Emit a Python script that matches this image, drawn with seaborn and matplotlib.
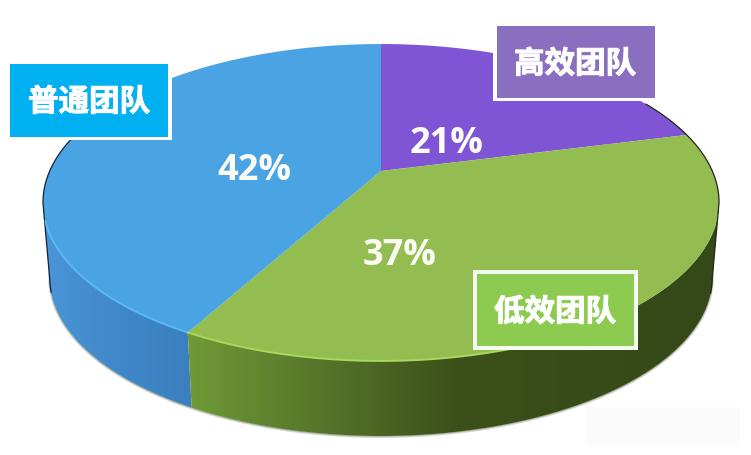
import matplotlib

matplotlib.use("Agg")
import matplotlib.patheffects as pe
import matplotlib.pyplot as plt
import numpy as np
import seaborn as sns
from matplotlib.patches import Polygon, Rectangle

# clockwise from 12 o'clock
team_names = ["高效团队", "低效团队", "普通团队"]
team_shares = [21, 37, 42]
share_labels = ["21%", "37%", "42%"]
top_colors = ["#7F55D6", "#93BD50", "#4AA3E3"]

# disc seen in perspective: the apex sits above the middle of the ellipse
APEX_X, APEX_Y = 381, 172
SCALE_X, SCALE_Y, TILT = 331.3, 152.2, 0.1987
DEPTH, RIM_SHRINK = 75, 0.98


def top_arc(start, stop, n=200):
    '''Screen points of the top edge between two cumulative shares.'''
    angle = np.linspace(start, stop, n) / 100 * 2 * np.pi
    u, v = np.sin(angle), -np.cos(angle)
    w = 1 - TILT * v
    return APEX_X + SCALE_X * u / w, APEX_Y + SCALE_Y * v / w


def rim_arc(start, stop, n=200):
    x, y = top_arc(start, stop, n)
    return APEX_X + (x - APEX_X) * RIM_SHRINK, y + DEPTH


def side_wall(ax, start, stop, colors, x0, x1, zorder):
    '''Visible wall of a slice, shaded from left to right.'''
    tx, ty = top_arc(start, stop)
    rx, ry = rim_arc(start, stop)
    # only the front of the disc shows, so stop at the widest point
    if start >= 50:
        i, j = np.argmin(tx), np.argmin(rx)
        tx, ty, rx, ry = tx[:i + 1], ty[:i + 1], rx[:j + 1], ry[:j + 1]
    else:
        i, j = np.argmax(tx), np.argmax(rx)
        tx, ty, rx, ry = tx[i:], ty[i:], rx[j:], ry[j:]
    outline = np.column_stack([np.r_[tx, rx[::-1]], np.r_[ty, ry[::-1]]])
    shape = Polygon(outline, closed=True, fc="none", ec="none", transform=ax.transData)
    ax.add_patch(shape)
    cmap = sns.blend_palette(colors, as_cmap=True)
    img = ax.imshow(np.linspace(0, 1, 256)[np.newaxis], extent=(x0, x1, 456, 0),
                    cmap=cmap, aspect="auto", zorder=zorder)
    img.set_clip_path(shape)


def flank_line(ax, start, stop, pick, color):
    '''Dark hairline: top edge down to the widest point, then on to the rim.'''
    tx, ty = top_arc(start, stop)
    rx, ry = rim_arc(start, stop)
    i, j = pick(tx), pick(rx)
    ax.plot(np.r_[tx[:i + 1], rx[j:j + 25]], np.r_[ty[:i + 1], ry[j:j + 25]],
            color=color, lw=0.9, zorder=4.5)


def tag(ax, name, x0, y0, x1, y1, fill, tx, ty):
    ax.add_patch(Rectangle((x0, y0), x1 - x0, y1 - y0, fc=fill, ec="none", zorder=6))
    ax.text(tx, ty, name, color="white", fontsize=22, fontweight="bold",
            ha="center", va="center", zorder=7,
            path_effects=[pe.withStroke(linewidth=0.7, foreground="white")])


sns.set_theme(style="white")
plt.rcParams["font.family"] = ["Noto Sans CJK SC", "DejaVu Sans"]

fig = plt.figure(figsize=(7.51, 4.56), dpi=100)
ax = fig.add_axes([0, 0, 1, 1])

edges = np.r_[0, np.cumsum(team_shares)]
green_start, blue_start = edges[1], edges[2]

# faint patch left over in the corner of the picture
ax.add_patch(Rectangle((585, 408), 155, 39, fc="#FBFBFB", ec="none", zorder=0))

# soft shadow round the lower rim
rx, ry = rim_arc(25, 75, 300)
ax.plot(rx, ry + 0.5, color="#8E8E8E", lw=2.2, alpha=0.35, zorder=1)
ax.plot(rx, ry + 0.3, color="#A9B59A", lw=0.9, zorder=1)

# blue first so the green wall keeps a clean edge where they meet
side_wall(ax, blue_start, 100, ["#4A96D8", "#3F88C9", "#3A7FBE"], 40, 200, 2)
side_wall(ax, green_start, blue_start,
          ["#6F9A36", "#55752A", "#3C5019", "#384C19", "#344818"], 188, 725, 3)

flank_line(ax, 80, 68, np.argmin, "#14213A")
flank_line(ax, 17, 30, np.argmax, "#20261A")

# top faces
for i, color in enumerate(top_colors):
    x, y = top_arc(edges[i], edges[i + 1])
    ax.fill(np.r_[APEX_X, x], np.r_[APEX_Y, y], color=color, lw=0, zorder=4)

# bright lip along the front edge
x, y = top_arc(blue_start, 70)
ax.plot(x, y, color="#5CB8F2", lw=1.4, zorder=5)
x, y = top_arc(blue_start - 14, blue_start)
ax.plot(x, y, color="#A8D85C", lw=1.4, zorder=5)

# white frames behind the tags
ax.add_patch(Rectangle((5, 62), 167, 79, fc="white", ec="none", zorder=5))
ax.add_patch(Rectangle((493, 24), 165, 78, fc="white", ec="none", zorder=5))
ax.add_patch(Rectangle((473, 271), 165, 80, fc="#F6FBEF", ec="none", zorder=5))

tag(ax, team_names[2], 10, 65, 168, 138, "#00B0F0", 89, 103)
tag(ax, team_names[0], 497, 27, 655, 99, "#8A6FC0", 575, 65)
tag(ax, team_names[1], 477, 275, 634, 347, "#8CCB50", 555, 313)

for label, (tx, ty) in zip(share_labels, [(447, 144), (400, 256), (254, 171)]):
    ax.text(tx, ty, label, color="#FBFBF5", fontsize=26, fontweight="bold",
            family="Open Sans", ha="center", va="center", zorder=7)

ax.set_xlim(0, 751)
ax.set_ylim(456, 0)
ax.axis("off")

fig.savefig("out.png", dpi=100)
plt.close(fig)
